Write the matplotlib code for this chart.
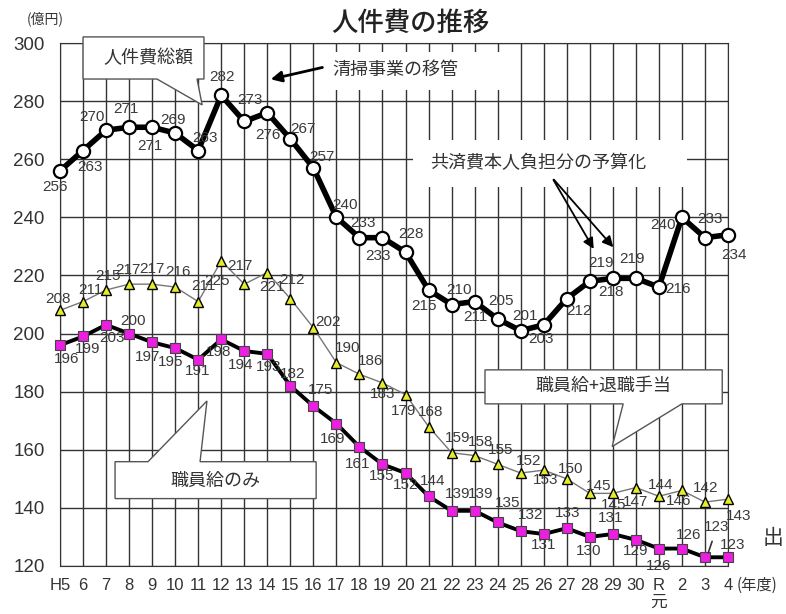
import matplotlib
matplotlib.use('Agg')
import matplotlib.pyplot as plt
from matplotlib.patches import Polygon, Rectangle

# 年度ラベル
years = ['H5', '6', '7', '8', '9', '10', '11', '12', '13', '14', '15', '16', '17', '18', '19',
         '20', '21', '22', '23', '24', '25', '26', '27', '28', '29', '30', 'R\n元', '2', '3', '4']

# 人件費総額
total = [256, 263, 270, 271, 271, 269, 263, 282, 273, 276, 267, 257, 240, 233, 233,
         228, 215, 210, 211, 205, 201, 203, 212, 218, 219, 219, 216, 240, 233, 234]
# 職員給+退職手当
salary_retire = [208, 211, 215, 217, 217, 216, 211, 225, 217, 221, 212, 202, 190, 186, 183,
                 179, 168, 159, 158, 155, 152, 153, 150, 145, 145, 147, 144, 146, 142, 143]
# 職員給のみ
salary = [196, 199, 203, 200, 197, 195, 191, 198, 194, 193, 182, 175, 169, 161, 155,
          152, 144, 139, 139, 135, 132, 131, 133, 130, 131, 129, 126, 126, 123, 123]

# label offsets in pixels (dx, dy up)
off_total = [(-5, -16), (7, -16), (-14, 13), (-3, 18), (-2, -19), (-2, 13), (7, 13), (1, 18),
             (6, 21), (1, -22), (13, 10), (9, 11), (9, 12), (4, 15), (-4, -18), (5, 18),
             (-5, -16), (7, 15), (1, -15), (3, 18), (4, 15), (-3, -14), (12, -12), (21, -11),
             (-12, 15), (-4, 19), (19, -2), (-19, -8), (5, 19), (6, -20)]
off_sr = [(-2, 11), (7, 12), (2, 14), (-1, 14), (0, 15), (3, 15), (5, 16), (-4, -20),
          (-4, 18), (5, -14), (2, 19), (15, 6), (11, 15), (11, 13), (0, -11), (-2, -16),
          (2, 15), (6, 15), (6, 14), (3, 14), (8, 12), (2, -10), (4, 10), (9, 7),
          (1, -12), (0, -14), (2, 11), (-3, -11), (1, 14), (11, -17)]
off_sal = [(7, -14), (5, -13), (6, -13), (4, 13), (-5, -15), (-5, -14), (-1, -11), (-3, -13),
           (-4, -14), (1, -13), (2, 12), (7, 16), (-4, -15), (-2, -17), (-1, -12), (0, -12),
           (4, 15), (6, 17), (6, 17), (10, 19), (10, 16), (0, -11), (1, 15), (-1, -14),
           (-2, 16), (0, -11), (0, -17), (7, 14), (12, 30), (5, 12)]

jp = ['Noto Sans CJK JP', 'DejaVu Sans']
num = ['Liberation Sans Narrow', 'Liberation Sans', 'Noto Sans CJK JP']

fig = plt.figure(figsize=(7.86, 6.14), dpi=100)
ax = fig.add_axes([60 / 786, 48 / 614, 668 / 786, 523 / 614])
x = list(range(len(years)))

ax.set_xlim(0, len(years) - 1)
ax.set_ylim(120, 300)
ax.set_yticks(range(120, 301, 20))
ax.set_xticks(x)
ax.set_xticklabels(years, fontsize=12, family=['Liberation Sans', 'Noto Sans CJK JP'],
                   color='#333333', va='top', linespacing=1.1)
ax.set_yticklabels([str(v) for v in range(120, 301, 20)], fontsize=13.5,
                   family=['Liberation Sans'], color='#333333')
ax.tick_params(length=0)
ax.tick_params(axis='x', pad=9)
ax.tick_params(axis='y', pad=11)
ax.grid(True, color='#333333', lw=1)
ax.set_axisbelow(True)
for s in ax.spines.values():
    s.set_color('#333333')

ax.plot(x, salary_retire, color='#777777', lw=1, marker='^', ms=7,
        mfc='#e4ec2c', mec='black', mew=1, zorder=4, clip_on=False)
ax.plot(x, salary, color='black', lw=2.8, marker='s', ms=7.5,
        mfc='#ec1ee0', mec='#444444', mew=0.8, zorder=5, clip_on=False)
ax.plot(x, total, color='black', lw=4, marker='o', ms=9.5,
        mfc='white', mec='black', mew=1.6, zorder=6, clip_on=False)

for series, offs in [(total, off_total), (salary_retire, off_sr), (salary, off_sal)]:
    for i, v in enumerate(series):
        ax.annotate(str(v), (i, v), xytext=offs[i], textcoords='offset pixels',
                    ha='center', va='center', fontsize=11, family=num,
                    color='#3a3a3a', zorder=8, annotation_clip=False)
# leader line for R3 salary label
ax.annotate('', xy=(28.1, 123.6), xytext=(28.35, 129.4),
            arrowprops=dict(arrowstyle='-', color='#333333', lw=1.2), zorder=8)


def callout(box, tail, text, tcenter, top_tail=False):
    x0, x1, y0, y1 = box
    bl, tip, br = tail
    if top_tail:
        pts = [(x0, y0), (x1, y0), (x1, y1), br, tip, bl, (x0, y1)]
    else:
        pts = [(x0, y1), (x1, y1), (x1, y0), br, tip, bl, (x0, y0)]
    ax.add_patch(Polygon(pts, closed=True, fc='white', ec='#555555', lw=1,
                         zorder=3, clip_on=False))
    ax.text(tcenter[0], tcenter[1], text, ha='center', va='center', fontsize=13,
            family=jp, color='#333333', zorder=3.5)


callout((1.0, 6.25, 287.6, 302.1), ((4.21, 287.6), (6.17, 278.7), (5.95, 287.6)),
        '人件費総額', (3.82, 294.9))
callout((2.39, 11.12, 143.2, 155.9), ((3.82, 155.9), (6.38, 176.8), (6.08, 155.9)),
        '職員給のみ', (6.73, 149.4), top_tail=True)
callout((18.45, 28.75, 175.8, 187.5), ((24.45, 175.8), (23.97, 161.1), (27.0, 175.8)),
        '職員給+退職手当', (23.58, 182.0))

# 清掃事業の移管
ax.add_patch(Rectangle((11.2, 283.9), 8.56, 13.0, fc='white', ec='none', zorder=2))
ax.text(11.81, 290.7, '清掃事業の移管', ha='left', va='center', fontsize=13,
        family=jp, color='#333333', zorder=3)
ax.annotate('', xy=(9.03, 287.3), xytext=(11.51, 291.8),
            arrowprops=dict(arrowstyle='-|>', color='black', lw=2, mutation_scale=16), zorder=7)

# 共済費本人負担分の予算化
ax.add_patch(Rectangle((15.33, 250.6), 11.9, 16.1, fc='white', ec='none', zorder=2))
ax.text(16.07, 258.8, '共済費本人負担分の予算化', ha='left', va='center', fontsize=13,
        family=jp, color='#333333', zorder=3)
for tip in [(23.23, 228.3), (24.1, 229.0)]:
    ax.annotate('', xy=tip, xytext=(21.36, 253.7),
                arrowprops=dict(arrowstyle='-|>', color='black', lw=1.3, mutation_scale=16),
                zorder=7)

fig.text(410 / 786, 1 - 23 / 614, '人件費の推移', ha='center', va='center',
         fontsize=19, family=jp, weight='medium', color='#222222')
fig.text(27 / 786, 1 - 19 / 614, '(億円)', ha='left', va='center',
         fontsize=10, family=jp, color='#333333')
fig.text(737 / 786, 1 - 585 / 614, '(年度)', ha='left', va='center',
         fontsize=11, family=jp, color='#333333')
fig.text(763 / 786, 1 - 538 / 614, '出', ha='left', va='center',
         fontsize=15, family=jp, color='#333333')

fig.savefig('out.png', dpi=100)
